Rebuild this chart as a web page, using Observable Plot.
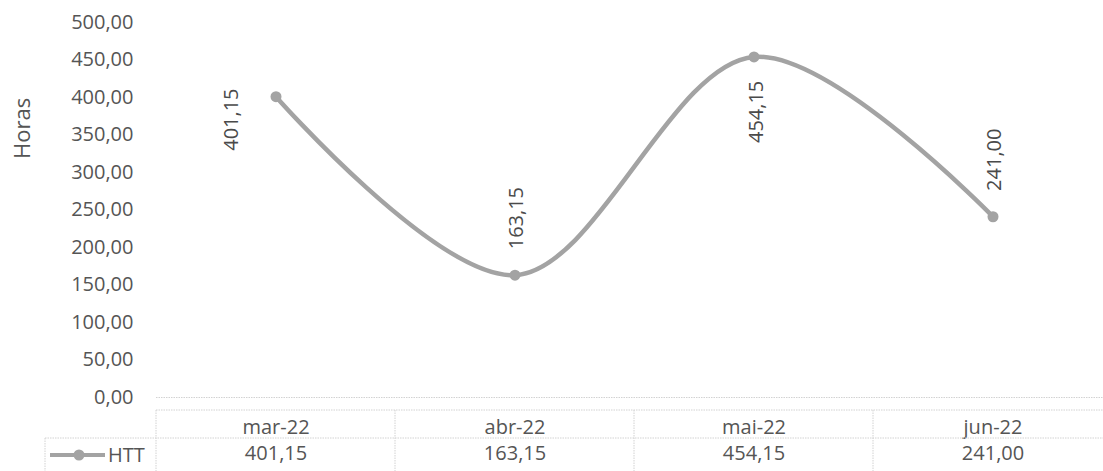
<!DOCTYPE html>
<html>
<head>
<meta charset="utf-8">
<script src="https://cdn.jsdelivr.net/npm/d3@7"></script>
<script src="https://cdn.jsdelivr.net/npm/@observablehq/plot@0.6"></script>
<style>
  html, body { margin: 0; padding: 0; background: #fff; }
  #chart { width: 1103px; height: 471px; overflow: hidden; }
</style>
</head>
<body>
<div id="chart"></div>
<script>
// ---- data ----
const months = ["mar-22", "abr-22", "mai-22", "jun-22"];
const htt = [401.15, 163.15, 454.15, 241.00];
const seriesName = "HTT";
const yAxisTitle = "Horas";
const yTicks = [0, 50, 100, 150, 200, 250, 300, 350, 400, 450, 500];

// label placement per month (style, not data)
const labelPlacement = ["left", "above", "below", "above"];

const data = months.map((m, i) => ({month: m, value: htt[i], place: labelPlacement[i]}));
const fmt = d => d.toFixed(2).replace(".", ",");

const FONT = "'Open Sans', 'Noto Sans', sans-serif";
const TEXT = "#555555";
const LINE = "#a3a3a3";
const GRID = "#d2d2d2";

const W = 1103, H = 471;

function tableMark(index, scales, values, dims) {
  const x = scales.x;
  const bw = x.bandwidth ? x.bandwidth() : (x(months[1]) - x(months[0]));
  const bottom = dims.height - dims.marginBottom; // y of zero line
  const yTop = bottom + 13;
  const yMid = bottom + 41;
  const legLeft = 45;
  const left = x(months[0]);
  const right = x(months[months.length - 1]) + bw;
  const g = d3.create("svg:g")
    .attr("stroke", GRID).attr("stroke-width", 1).attr("stroke-dasharray", "1.5,1");
  g.append("line").attr("x1", left).attr("x2", right).attr("y1", yTop).attr("y2", yTop);
  g.append("line").attr("x1", legLeft).attr("x2", right).attr("y1", yMid).attr("y2", yMid);
  g.append("line").attr("x1", legLeft).attr("x2", legLeft).attr("y1", yMid).attr("y2", dims.height);
  months.forEach(m => {
    g.append("line").attr("x1", x(m)).attr("x2", x(m)).attr("y1", yTop).attr("y2", dims.height);
  });
  g.append("line").attr("x1", right).attr("x2", right).attr("y1", yTop).attr("y2", dims.height);
  // legend key
  const ly = bottom + 58;
  const lg = d3.create("svg:g");
  lg.append("line").attr("x1", 50).attr("x2", 105).attr("y1", ly).attr("y2", ly)
    .attr("stroke", LINE).attr("stroke-width", 4);
  lg.append("circle").attr("cx", 79).attr("cy", ly).attr("r", 5.5).attr("fill", LINE);
  lg.append("text").attr("x", 108).attr("y", ly).attr("dy", "0.35em")
    .attr("text-anchor", "start")
    .attr("font-family", FONT).attr("font-size", 20).attr("fill", TEXT).text(seriesName);
  const wrap = d3.create("svg:g");
  wrap.append(() => g.node());
  wrap.append(() => lg.node());
  return wrap.node();
}

const labelOffsets = {
  left:  {dx: -44, dy: 23},
  above: {dx: 2, dy: -57},
  below: {dx: 3, dy: 55}
};

const labelMarks = Object.entries(labelOffsets).map(([place, off]) =>
  Plot.text(data.filter(d => d.place === place), {
    x: "month", y: "value", text: d => fmt(d.value),
    rotate: -90, dx: off.dx, dy: off.dy,
    fontSize: 20, fill: "#4a4a4a", textAnchor: "middle", lineAnchor: "middle"
  })
);

const chart = Plot.plot({
  width: W,
  height: H,
  marginLeft: 156,
  marginRight: -9,
  marginTop: 22,
  marginBottom: 74,
  style: {fontFamily: FONT, background: "#fff", color: TEXT, overflow: "visible"},
  x: {type: "band", domain: months, padding: 0, axis: null},
  y: {domain: [0, 500], axis: null},
  marks: [
    Plot.ruleY([0], {stroke: GRID, strokeWidth: 1, strokeDasharray: "1.5,1"}),
    Plot.axisY({ticks: yTicks, tickFormat: fmt, tickSize: 0, tickPadding: 23,
      fontSize: 20, fill: TEXT, label: null}),
    Plot.axisX({tickSize: 0, tickPadding: 30, lineAnchor: "middle",
      fontSize: 20, fill: TEXT, label: null}),
    Plot.text([yAxisTitle], {frameAnchor: "left", text: d => d, rotate: -90,
      dx: -134, dy: -51, fontSize: 22, fill: TEXT}),
    Plot.line(data, {x: "month", y: "value", curve: "catmull-rom", stroke: LINE, strokeWidth: 4.5}),
    Plot.dot(data, {x: "month", y: "value", r: 5.5, fill: LINE, stroke: "none"}),
    ...labelMarks,
    Plot.text(data, {x: "month", frameAnchor: "bottom", text: d => fmt(d.value),
      dy: 56, fontSize: 20, fill: TEXT, lineAnchor: "middle"}),
    tableMark
  ]
});

document.getElementById("chart").appendChild(chart);
</script>
</body>
</html>
